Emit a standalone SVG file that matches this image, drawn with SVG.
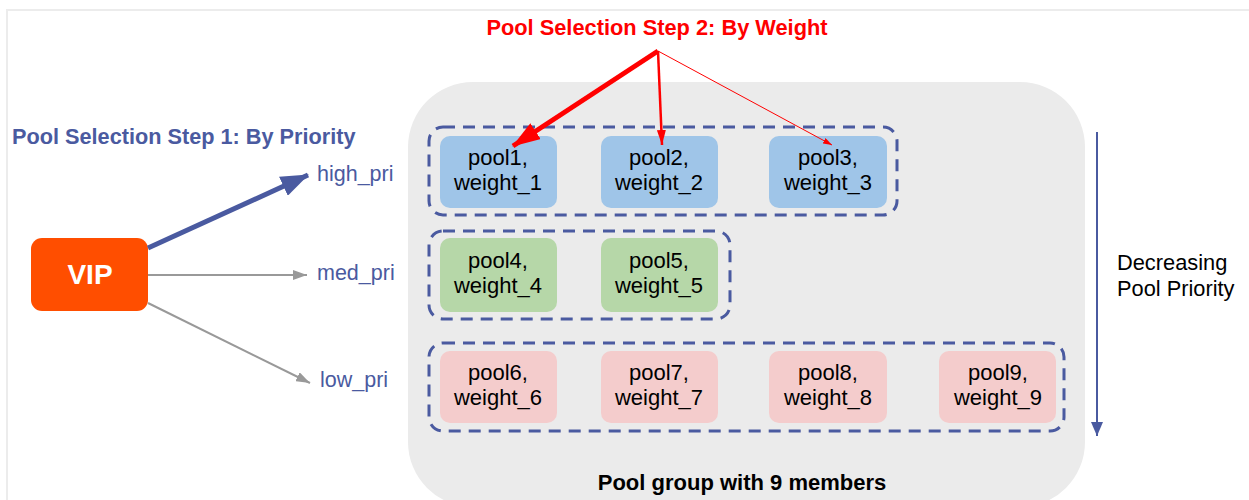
<svg xmlns="http://www.w3.org/2000/svg" width="1249" height="500" viewBox="0 0 1249 500">
<defs>
<style>
.frame{stroke:#ececec;stroke-width:2;fill:none}
.grp{fill:none;stroke:#4a5aa0;stroke-width:3;stroke-dasharray:12 8}
.pool text,.lbl{font-family:"Liberation Sans",Arial,sans-serif;font-size:22px;fill:#000;text-anchor:middle}
.blue rect{fill:#9fc5e8}
.green rect{fill:#b6d7a8}
.pink rect{fill:#f4cccc}
.pri{font-family:"Liberation Sans",Arial,sans-serif;font-size:21.5px;fill:#4a5aa0}
</style>
<marker id="ahBlue" viewBox="0 0 28 21" refX="27" refY="10.5" markerWidth="28" markerHeight="21" markerUnits="userSpaceOnUse" orient="auto"><path d="M0,0L28,10.5L0,21z" fill="#4a5aa0"/></marker>
<marker id="ahGray" viewBox="0 0 14 10" refX="14" refY="5" markerWidth="14" markerHeight="10" markerUnits="userSpaceOnUse" orient="auto"><path d="M0,0L14,5L0,10z" fill="#999"/></marker>
<marker id="ahRed" viewBox="0 0 28 19" refX="27" refY="9.5" markerWidth="28" markerHeight="19" markerUnits="userSpaceOnUse" orient="auto"><path d="M0,0L28,9.5L0,19z" fill="#ff0000"/></marker>
<marker id="ahRedS" viewBox="0 0 15 9" refX="15" refY="4.5" markerWidth="15" markerHeight="9" markerUnits="userSpaceOnUse" orient="auto"><path d="M0,0L15,4.5L0,9z" fill="#ff0000"/></marker>
<marker id="ahRedT" viewBox="0 0 9 6" refX="9" refY="3" markerWidth="9" markerHeight="6" markerUnits="userSpaceOnUse" orient="auto"><path d="M0,0L9,3L0,6z" fill="#ff0000"/></marker>
<marker id="ahBlueS" viewBox="0 0 14 12" refX="14" refY="6" markerWidth="14" markerHeight="12" markerUnits="userSpaceOnUse" orient="auto"><path d="M0,0L14,6L0,12z" fill="#4a5aa0"/></marker>
</defs>
<rect width="1249" height="500" fill="#fff"/>
<path class="frame" d="M7,500V10H1249"/>
<g id="container">
<rect x="408" y="82" width="677" height="425" rx="65" fill="#ebebeb"/>
<text class="lbl" x="742" y="490" style="font-weight:bold">Pool group with 9 members</text>
</g>
<g id="title1"><text x="12" y="144" font-family="Liberation Sans, Arial, sans-serif" font-weight="bold" font-size="21.7" fill="#4a5aa0">Pool Selection Step 1: By Priority</text></g>
<g id="title2"><text x="657" y="35" font-family="Liberation Sans, Arial, sans-serif" font-weight="bold" font-size="21.8" fill="#ff0000" text-anchor="middle">Pool Selection Step 2: By Weight</text></g>
<g id="vip"><rect x="31" y="238" width="117" height="73" rx="11" fill="#ff4e00"/><text x="90" y="284" font-family="Liberation Sans, Arial, sans-serif" font-weight="bold" font-size="28" fill="#fff" text-anchor="middle">VIP</text></g>
<g id="high_pri"><text class="pri" x="317" y="181">high_pri</text></g>
<g id="med_pri"><text class="pri" x="317" y="280">med_pri</text></g>
<g id="low_pri"><text class="pri" x="320" y="387">low_pri</text></g>
<g id="group-high"><rect class="grp" x="429" y="127" width="468" height="88" rx="14"/></g>
<g id="group-med"><rect class="grp" x="429" y="231" width="301" height="88" rx="14"/></g>
<g id="group-low"><rect class="grp" x="429" y="343" width="635" height="88" rx="14"/></g>
<g id="pool1" class="pool blue"><rect x="440" y="136" width="117" height="72" rx="10"/><text x="498" y="165">pool1,</text><text x="498" y="190">weight_1</text></g>
<g id="pool2" class="pool blue"><rect x="601" y="136" width="117" height="72" rx="10"/><text x="659" y="165">pool2,</text><text x="659" y="190">weight_2</text></g>
<g id="pool3" class="pool blue"><rect x="769" y="136" width="118" height="72" rx="10"/><text x="828" y="165">pool3,</text><text x="828" y="190">weight_3</text></g>
<g id="pool4" class="pool green"><rect x="440" y="238" width="117" height="74" rx="10"/><text x="498" y="268">pool4,</text><text x="498" y="293">weight_4</text></g>
<g id="pool5" class="pool green"><rect x="601" y="238" width="117" height="74" rx="10"/><text x="659" y="268">pool5,</text><text x="659" y="293">weight_5</text></g>
<g id="pool6" class="pool pink"><rect x="440" y="351" width="117" height="72" rx="10"/><text x="498" y="380">pool6,</text><text x="498" y="405">weight_6</text></g>
<g id="pool7" class="pool pink"><rect x="601" y="351" width="117" height="72" rx="10"/><text x="659" y="380">pool7,</text><text x="659" y="405">weight_7</text></g>
<g id="pool8" class="pool pink"><rect x="769" y="351" width="118" height="72" rx="10"/><text x="828" y="380">pool8,</text><text x="828" y="405">weight_8</text></g>
<g id="pool9" class="pool pink"><rect x="939" y="351" width="117" height="72" rx="10"/><text x="998" y="380">pool9,</text><text x="998" y="405">weight_9</text></g>
<g id="decreasing"><text x="1117" y="270" font-family="Liberation Sans, Arial, sans-serif" font-size="21.8" fill="#000">Decreasing</text><text x="1117" y="296" font-family="Liberation Sans, Arial, sans-serif" font-size="21.8" fill="#000">Pool Priority</text></g>
<g id="connectors" fill="none">
<line x1="148" y1="248" x2="308" y2="175" stroke="#4a5aa0" stroke-width="5" marker-end="url(#ahBlue)"/>
<line x1="148" y1="275" x2="307" y2="275" stroke="#999" stroke-width="2" marker-end="url(#ahGray)"/>
<line x1="148" y1="303" x2="310" y2="383" stroke="#999" stroke-width="2" marker-end="url(#ahGray)"/>
<line x1="658" y1="51" x2="513" y2="146" stroke="#ff0000" stroke-width="5" marker-end="url(#ahRed)"/>
<line x1="658" y1="51" x2="662" y2="145" stroke="#ff0000" stroke-width="2.5" marker-end="url(#ahRedS)"/>
<line x1="658" y1="51" x2="832" y2="145" stroke="#ff0000" stroke-width="1" marker-end="url(#ahRedT)"/>
<line x1="1097" y1="132" x2="1097" y2="436" stroke="#4a5aa0" stroke-width="2" marker-end="url(#ahBlueS)"/>
</g>
</svg>
